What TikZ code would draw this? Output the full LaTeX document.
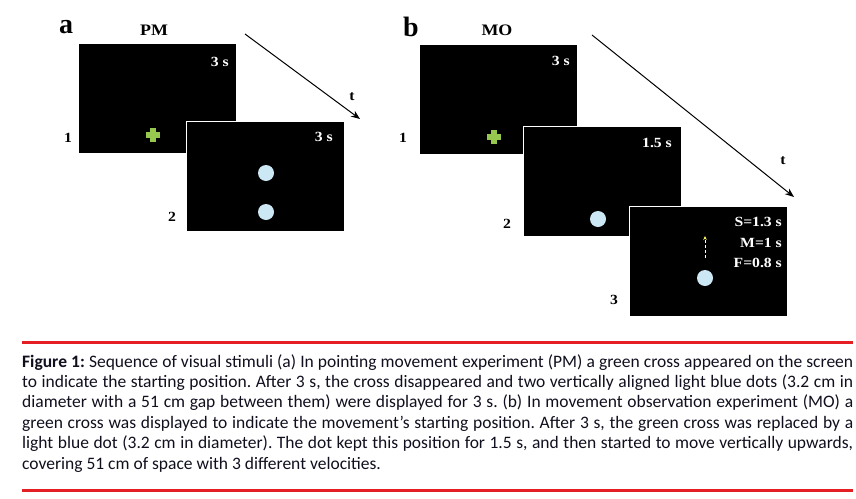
\documentclass[tikz,border=0pt]{standalone}
\usepackage{fontspec}
\setmainfont{Liberation Serif}
\newfontfamily\stimfont[FakeStretch=1.12]{Liberation Serif}
\newfontfamily\captionfont{Carlito}
\usetikzlibrary{arrows.meta}
\definecolor{crossGreen}{RGB}{150,200,80}
\definecolor{dotBlue}{RGB}{205,232,245}
\definecolor{ruleRed}{RGB}{228,30,36}
\definecolor{captionInk}{RGB}{15,15,30}

\tikzset{
  screen/.style={fill=black, draw=white, line width=0.8pt, minimum width=158pt,
    minimum height=110pt, inner sep=0pt, anchor=north west},
  durlab/.style={text=white, font=\stimfont\bfseries\fontsize{14}{16}\selectfont, anchor=east, inner sep=0pt},
  numlab/.style={font=\stimfont\bfseries\fontsize{14}{16}\selectfont, inner sep=0pt},
  panlab/.style={font=\bfseries\fontsize{28}{30}\selectfont, inner sep=0pt},
  titlab/.style={font=\stimfont\bfseries\fontsize{16}{18}\selectfont, inner sep=0pt},
  timearrow/.style={-{Stealth[length=9pt,width=7pt]}, line width=1pt},
  stimcross/.style={crossGreen, line width=6pt},
}

\begin{document}
\begin{tikzpicture}[x=1pt, y=-1pt]
  \useasboundingbox (0,0) rectangle (856,498);

  % panel a: pointing movement
  \node[panlab] (labA) at (66,27) {a};
  \node[titlab] (pmTitle) at (154,30) {PM};
  \node[screen] (a1) at (78,43) {};
  \node[durlab] (a1dur) at (229,62) {3 s};
  \draw[stimcross] (146,135) -- (160,135) (153,128) -- (153,142);
  \node[numlab] (a1num) at (68,138) {1};

  \node[screen] (a2) at (186,121) {};
  \node[durlab] (a2dur) at (333,137) {3 s};
  \fill[dotBlue] (266,173) circle (8pt);
  \fill[dotBlue] (266,212) circle (8pt);
  \node[numlab] (a2num) at (172,217) {2};

  \coordinate (ta0) at (245,34);
  \coordinate (ta1) at (360,119);
  \draw[timearrow] (ta0) -- (ta1);
  \node[numlab] (taLab) at (352,97) {t};

  % panel b: movement observation
  \node[panlab] (labB) at (411,27) {b};
  \node[titlab] (moTitle) at (497,30) {MO};
  \node[screen] (b1) at (419,44) {};
  \node[durlab] (b1dur) at (570,61) {3 s};
  \draw[stimcross] (487,137) -- (501,137) (494,130) -- (494,144);
  \node[numlab] (b1num) at (403,138) {1};

  \node[screen] (b2) at (523,126) {};
  \node[durlab] (b2dur) at (672,143) {1.5 s};
  \fill[dotBlue] (598,219) circle (8pt);
  \node[numlab] (b2num) at (507,224) {2};

  \node[screen] (b3) at (629,206) {};
  \node[durlab] (b3s) at (782,222) {S=1.3 s};
  \node[durlab] (b3m) at (782,243) {M=1 s};
  \node[durlab] (b3f) at (782,263) {F=0.8 s};
  \fill[dotBlue] (705,278) circle (8pt);
  \coordinate (mv0) at (705,258);
  \coordinate (mv1) at (705,236);
  \draw[white, line width=0.9pt, dash pattern=on 3pt off 2pt,
    -{Stealth[length=4pt,width=3.5pt,color=yellow!60]}] (mv0) -- (mv1);
  \node[numlab] (b3num) at (614,300) {3};

  \coordinate (tb0) at (592,35);
  \coordinate (tb1) at (794,197);
  \draw[timearrow] (tb0) -- (tb1);
  \node[numlab] (tbLab) at (783,161) {t};

  % caption between two red rules
  \coordinate (rt0) at (22,342);
  \coordinate (rt1) at (853,342);
  \coordinate (rb0) at (22,490);
  \coordinate (rb1) at (853,490);
  \draw[ruleRed, line width=3pt] (rt0) -- (rt1);
  \draw[ruleRed, line width=3pt] (rb0) -- (rb1);
  \node[anchor=north west, text width=831pt, align=justify, inner sep=0pt, text=captionInk,
    font=\captionfont\fontsize{17.5}{20.4}\selectfont\frenchspacing] (caption) at (22,354)
    {\textbf{Figure 1:} Sequence of visual stimuli (a) In pointing movement experiment (PM) a green cross appeared on the screen\linebreak
     to indicate the starting position. After 3 s, the cross disappeared and two vertically aligned light blue dots (3.2 cm in\linebreak
     diameter with a 51 cm gap between them) were displayed for 3 s. (b) In movement observation experiment (MO) a\linebreak
     green cross was displayed to indicate the movement’s starting position. After 3 s, the green cross was replaced by a\linebreak
     light blue dot (3.2 cm in diameter). The dot kept this position for 1.5 s, and then started to move vertically upwards,\linebreak
     covering 51 cm of space with 3 different velocities.};
\end{tikzpicture}
\end{document}
